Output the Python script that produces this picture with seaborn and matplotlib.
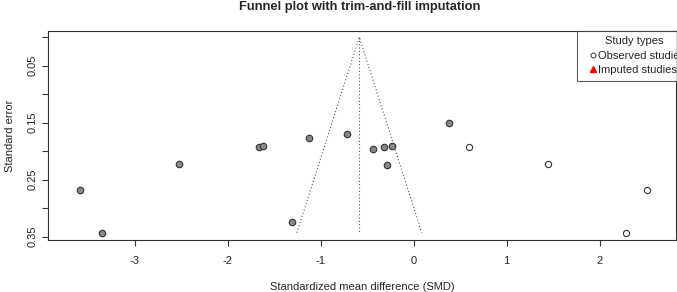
import numpy as np
import pandas as pd
import matplotlib
matplotlib.use("Agg")
import matplotlib.pyplot as plt
from matplotlib.lines import Line2D
import seaborn as sns

# --- Data ---
smd_filled = [-3.59, -3.36, -2.53, -1.67, -1.62, -1.31, -1.13, -0.72,
              -0.44, -0.32, -0.23, -0.29, 0.38]
se_filled = [0.268, 0.343, 0.2225, 0.1926, 0.1905, 0.324, 0.1774, 0.1704,
             0.196, 0.192, 0.1905, 0.2247, 0.151]
smd_open = [0.60, 1.45, 2.51, 2.28]
se_open = [0.192, 0.2225, 0.268, 0.343]

pooled = -0.585
se_max = 0.343

df_filled = pd.DataFrame({"smd": smd_filled, "se": se_filled})
df_open = pd.DataFrame({"smd": smd_open, "se": se_open})

sns.set_style("white")
plt.rcParams["font.family"] = ["Liberation Sans", "DejaVu Sans"]

fs = 8
fig = plt.figure(figsize=(6.77, 2.92), dpi=100)
ax = fig.add_axes([0.0713, 0.178, 0.9272, 0.717])

# --- Funnel lines ---
ax.plot([pooled - 1.96 * se_max, pooled, pooled + 1.96 * se_max],
        [se_max, 0, se_max], ls=(0, (1, 2)), color="#555555", lw=0.8)
ax.plot([pooled, pooled], [0, se_max], ls=(0, (1, 2)), color="#555555", lw=0.8)

# --- Points ---
sns.scatterplot(data=df_filled, x="smd", y="se", ax=ax, s=22,
                color="#888888", edgecolor="#333333", linewidth=0.8, zorder=3)
sns.scatterplot(data=df_open, x="smd", y="se", ax=ax, s=20,
                facecolor="white", edgecolor="#333333", linewidth=0.8, zorder=3)

ax.set_xlim(-3.933, 2.823)
ax.set_ylim(0.3558, -0.0114)

ax.set_xticks([-3, -2, -1, 0, 1, 2])
ax.set_xticklabels(["-3", "-2", "-1", "0", "1", "2"])
yt = [0, 0.05, 0.10, 0.15, 0.20, 0.25, 0.30, 0.35]
ax.set_yticks(yt)
ax.set_yticklabels(["", "0.05", "", "0.15", "", "0.25", "", "0.35"],
                   rotation=90, va="center")
ax.tick_params(axis="both", direction="out", length=4.5, width=0.8,
               color="#333333", labelsize=fs, bottom=True, left=True)
ax.tick_params(axis="x", pad=7)
ax.tick_params(axis="y", pad=3.5)
for sp in ax.spines.values():
    sp.set_visible(True)
    sp.set_color("#333333")
    sp.set_linewidth(0.8)

ax.set_xlabel("Standardized mean difference (SMD)", fontsize=fs, labelpad=11.5)
ax.set_ylabel("Standard error", fontsize=fs, labelpad=9)
fig.text(0.532, 0.975, "Funnel plot with trim-and-fill imputation",
         fontsize=9.3, fontweight="bold", ha="center", va="center")

handles = [
    Line2D([], [], ls="none", marker="o", markersize=3.5, markerfacecolor="white",
           markeredgecolor="#333333", markeredgewidth=0.7, label="Observed studies"),
    Line2D([], [], ls="none", marker="^", markersize=4, color="red",
           label="Imputed studies"),
]
leg = ax.legend(handles=handles, title="Study types", loc="upper left",
                bbox_to_anchor=(0.852, 0.895), bbox_transform=fig.transFigure,
                fontsize=fs, title_fontsize=fs, frameon=True, fancybox=False,
                handlelength=2.0, handletextpad=-0.55, borderpad=0.5,
                labelspacing=0.4, borderaxespad=0)
leg.get_frame().set_edgecolor("#333333")
leg.get_frame().set_linewidth(0.8)

fig.savefig("out.png", dpi=100)
